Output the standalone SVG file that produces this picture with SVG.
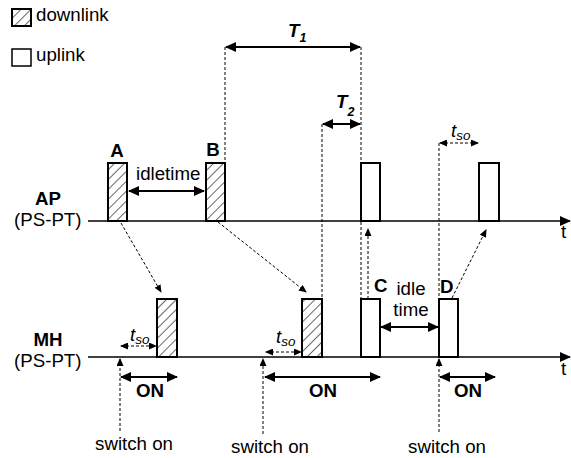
<svg xmlns="http://www.w3.org/2000/svg" width="571" height="458" viewBox="0 0 571 458">
<style>
text{font-family:"Liberation Sans",Arial,sans-serif;fill:#000;font-size:18.7px}
.b{font-weight:bold}
.i{font-style:italic}
.sub{font-size:13.5px;font-style:italic}
.mid{text-anchor:middle}
.dl{fill:url(#hatch);stroke:#000;stroke-width:2}
.ul{fill:#fff;stroke:#000;stroke-width:2}
.axis{stroke:#000;stroke-width:1.5;fill:none;marker-end:url(#ah)}
.solid2{stroke:#000;stroke-width:2;fill:none;marker-start:url(#ah);marker-end:url(#ah)}
.dash{stroke:#000;stroke-width:1;stroke-dasharray:3 2;fill:none}
.dasha{stroke:#000;stroke-width:1;stroke-dasharray:3 2;fill:none;marker-end:url(#as)}
.dasha2{stroke:#000;stroke-width:1;stroke-dasharray:3 2;fill:none;marker-start:url(#as);marker-end:url(#as)}
</style>
<defs>
<pattern id="hatch" patternUnits="userSpaceOnUse" width="7" height="10" patternTransform="rotate(45)">
<rect width="7" height="10" fill="#fff"/>
<line x1="0" y1="0" x2="0" y2="10" stroke="#000" stroke-width="1.2"/>
</pattern>
<marker id="ah" markerUnits="userSpaceOnUse" markerWidth="11" markerHeight="10" refX="10" refY="5" orient="auto-start-reverse">
<path d="M0,0 L11,5 L0,10 z" fill="#000"/>
</marker>
<marker id="as" markerUnits="userSpaceOnUse" markerWidth="8" markerHeight="7" refX="7" refY="3.5" orient="auto-start-reverse">
<path d="M0,0 L8,3.5 L0,7 z" fill="#000"/>
</marker>
</defs>

<g id="legend">
<rect class="dl" x="12" y="9" width="19" height="17"/>
<text x="36" y="21">downlink</text>
<rect class="ul" x="12" y="49" width="19" height="17" style="stroke-width:1.5"/>
<text x="36" y="61">uplink</text>
</g>

<g id="labels">
<text class="b mid" x="48" y="205">AP</text>
<text x="14" y="226">(PS-PT)</text>
<text class="b mid" x="48" y="346">MH</text>
<text x="14" y="367">(PS-PT)</text>
<text x="561" y="238">t</text>
<text x="561" y="375">t</text>
</g>

<g id="connectors">
<line class="axis" x1="88" y1="221" x2="570" y2="221"/>
<line class="axis" x1="88" y1="357" x2="570" y2="357"/>
<line class="dash" x1="225" y1="47" x2="225" y2="163"/>
<line class="dash" x1="361" y1="47" x2="361" y2="299"/>
<line class="dash" x1="322" y1="124" x2="322" y2="299"/>
<line class="dash" x1="439" y1="143" x2="439" y2="299"/>
<line class="solid2" x1="129" y1="191" x2="204" y2="191"/>
<line class="solid2" x1="226" y1="47" x2="360" y2="47"/>
<line class="solid2" x1="323" y1="124" x2="360" y2="124"/>
<line class="solid2" x1="381" y1="327" x2="438" y2="327"/>
<line class="dasha2" x1="440" y1="143" x2="478" y2="143"/>
<line class="dasha2" x1="121" y1="346" x2="156" y2="346"/>
<line class="dasha2" x1="266" y1="352" x2="301" y2="352"/>
<line class="dasha" x1="121" y1="223" x2="161" y2="292"/>
<line class="dasha" x1="218" y1="222" x2="306" y2="292"/>
<line class="dasha" x1="368" y1="299" x2="368" y2="229"/>
<line class="dasha" x1="452" y1="298" x2="486" y2="230"/>
<line class="dasha" x1="120" y1="431" x2="120" y2="359"/>
<line class="dasha" x1="263" y1="434" x2="263" y2="359"/>
<line class="dasha" x1="439" y1="432" x2="439" y2="359"/>
<line class="solid2" x1="121" y1="377" x2="177" y2="377"/>
<line class="solid2" x1="265" y1="377" x2="380" y2="377"/>
<line class="solid2" x1="440" y1="377" x2="495" y2="377"/>
</g>

<g id="node-A"><rect class="dl" x="108" y="163" width="19" height="58"/><text class="b mid" x="117" y="157">A</text></g>
<g id="node-B"><rect class="dl" x="206" y="163" width="19" height="58"/><text class="b mid" x="213" y="156">B</text></g>
<g id="node-AP-up1"><rect class="ul" x="361" y="163" width="19" height="58"/></g>
<g id="node-AP-up2"><rect class="ul" x="479" y="163" width="20" height="58"/></g>
<g id="node-MH-dl1"><rect class="dl" x="157" y="299" width="20" height="58"/></g>
<g id="node-MH-dl2"><rect class="dl" x="302" y="299" width="20" height="58"/></g>
<g id="node-C"><rect class="ul" x="361" y="299" width="19" height="58"/><text class="b" x="374" y="292">C</text></g>
<g id="node-D"><rect class="ul" x="439" y="299" width="19" height="58"/><text class="b" x="440" y="293">D</text></g>

<g id="annotations">
<text x="136" y="180">idletime</text>
<text class="b i" x="288" y="37">T<tspan dy="5" style="font-size:12.5px">1</tspan></text>
<text class="b i" x="336" y="108">T<tspan dy="8" style="font-size:12.5px">2</tspan></text>
<text class="i" x="451" y="137">t<tspan class="sub" dy="3">so</tspan></text>
<text class="i" x="130" y="341">t<tspan class="sub" dy="3">so</tspan></text>
<text class="i" x="276" y="343">t<tspan class="sub" dy="3">so</tspan></text>
<text class="mid" x="411" y="295">idle</text>
<text class="mid" x="411" y="316">time</text>
<text class="b mid" x="150" y="397">ON</text>
<text class="b mid" x="323" y="397">ON</text>
<text class="b mid" x="468" y="397">ON</text>
<text class="mid" x="134" y="450">switch on</text>
<text class="mid" x="270" y="453">switch on</text>
<text class="mid" x="447" y="453">switch on</text>
</g>
</svg>
